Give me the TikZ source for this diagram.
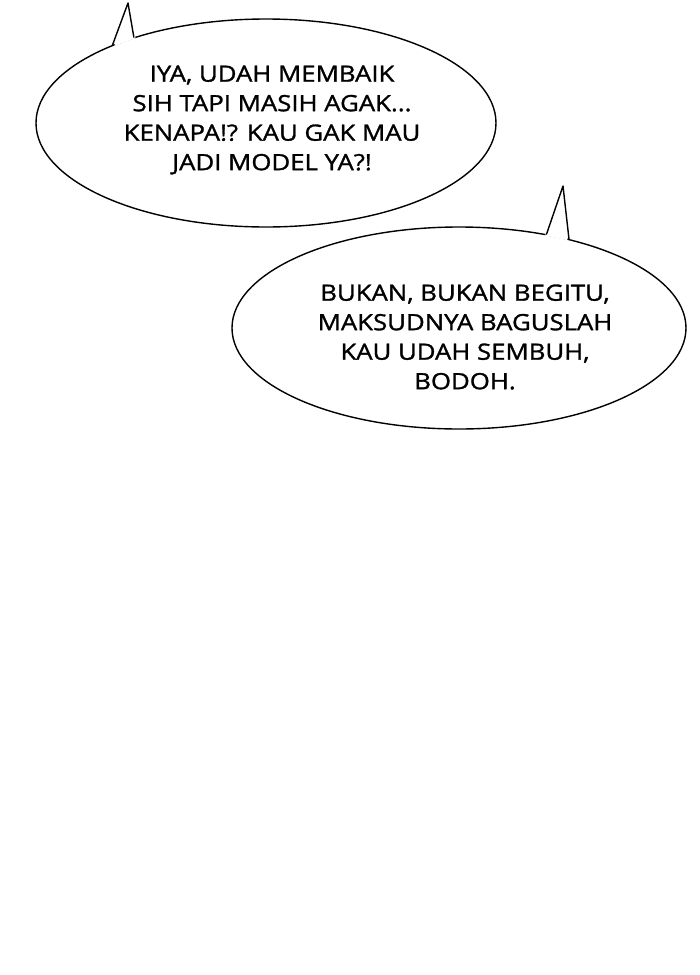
\documentclass[tikz,border=0pt]{standalone}
\usepackage{fontspec}
\setmainfont[FakeStretch=1.15,FakeBold=1.3]{Open Sans}
\usetikzlibrary{shapes.geometric,calc}
\begin{document}
\begin{tikzpicture}[x=1pt,y=-1pt,line join=round,line cap=round,line width=1.4pt,
	bubble/.style={draw,ellipse,fill=white,inner sep=0pt},
	speech/.style={align=center,font=\fontsize{22.4}{29.5}\selectfont,inner sep=0pt}]
	\useasboundingbox[fill=white] (0,0) rectangle (700,975);
	% first bubble
	\node[bubble,minimum width=460pt,minimum height=208pt] (b1) at (266,123) {};
	\coordinate (t1) at (128,3);
	\fill[white] ($(b1.153)!2pt!(b1.center)$)--(t1)--($(b1.147)!2pt!(b1.center)$)--cycle;
	\draw (b1.153)--(t1)--(b1.147);
	\node[speech] (s1) at (272,120) {IYA, UDAH MEMBAIK\\SIH TAPI MASIH AGAK...\\KENAPA!? KAU GAK MAU\\JADI MODEL YA?!};
	% second bubble
	\node[bubble,minimum width=454pt,minimum height=202pt] (b2) at (459,328) {};
	\coordinate (t2) at (563,186);
	\fill[white] ($(b2.47)!2pt!(b2.center)$)--(t2)--($(b2.39)!2pt!(b2.center)$)--cycle;
	\draw (b2.47)--(t2)--(b2.39);
	\node[speech] (s2) at (465,337) {BUKAN, BUKAN BEGITU,\\MAKSUDNYA BAGUSLAH\\KAU UDAH SEMBUH,\\BODOH.};
\end{tikzpicture}
\end{document}
